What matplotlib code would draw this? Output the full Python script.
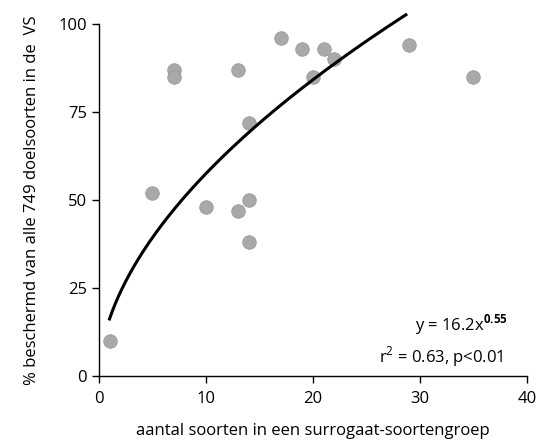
import numpy as np
import matplotlib
matplotlib.use("Agg")
import matplotlib.pyplot as plt

plt.rcParams['font.family'] = ['Open Sans', 'DejaVu Sans']
plt.rcParams['mathtext.fontset'] = 'custom'
plt.rcParams['mathtext.rm'] = 'Open Sans'
plt.rcParams['mathtext.bf'] = 'Open Sans:bold'

x_vals = [1, 5, 7, 7, 10, 13, 13, 14, 14, 14, 17, 19, 20, 21, 22, 29, 35]
y_vals = [10, 52, 87, 85, 48, 87, 47, 72, 50, 38, 96, 93, 85, 93, 90, 94, 85]
fit_a = 16.2
fit_b = 0.55
fit_range = (1, 28.7)

fig = plt.figure(figsize=(5.37, 4.46), dpi=100)
ax = fig.add_axes([0.184, 0.157, 0.797, 0.789])

ax.scatter(x_vals, y_vals, s=95, color='#a9a9a9', edgecolors='#9a9a9a', linewidths=0.6, zorder=2)
xf = np.linspace(fit_range[0], fit_range[1], 200)
ax.plot(xf, fit_a * xf ** fit_b, color='black', lw=2.2, zorder=3, clip_on=False)

ax.set_xlim(0, 40)
ax.set_ylim(0, 100)
ax.set_xticks([0, 10, 20, 30, 40])
ax.set_yticks([0, 25, 50, 75, 100])
for s in ['top', 'right']:
    ax.spines[s].set_visible(False)
for s in ['left', 'bottom']:
    ax.spines[s].set_linewidth(1.0)
ax.tick_params(axis='both', labelsize=12, length=5, width=1)
ax.tick_params(axis='x', pad=6)
ax.set_xlabel('aantal soorten in een surrogaat-soortengroep', fontsize=12, labelpad=11)
ax.set_ylabel('% beschermd van alle 749 doelsoorten in de  VS', fontsize=12, labelpad=13)

ax.text(0.955, 0.145, r'y = 16.2x$^{\mathbf{0.55}}$', transform=ax.transAxes, ha='right', va='center', fontsize=12)
ax.text(0.945, 0.055, r'r$^{2}$ = 0.63, p<0.01', transform=ax.transAxes, ha='right', va='center', fontsize=12)

fig.savefig('out.png', dpi=100)
